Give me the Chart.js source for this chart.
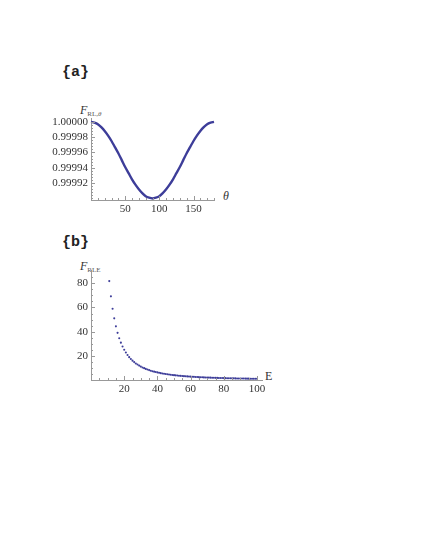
<!DOCTYPE html>
<html>
  <head>
    <title>F plots</title>
    <meta charset="UTF-8">
    <script src="https://cdn.jsdelivr.net/npm/chart.js@4.4.1/dist/chart.umd.min.js"></script>
    <style type="text/css">
      body { margin: 0; background: #fff; width: 425px; height: 549px; position: relative; overflow: hidden;
             font-family: "Liberation Serif", serif; }
      canvas { position: absolute; left: 0; }
      .tag { position: absolute; font: bold 15px "Liberation Mono", monospace; color: #222; }
      .lab { position: absolute; font-size: 12px; color: #333; white-space: nowrap; }
      .lab sub { font-size: 7px; vertical-align: -2px; color: #555; }
    </style>
    <script type="text/javascript">
      // panel (a): F_RL,theta vs theta (degrees)
      const thetaDeg = [0, 5, 10, 15, 20, 25, 30, 35, 40, 45, 50, 55, 60, 65, 70, 75, 80, 85, 90,
                        95, 100, 105, 110, 115, 120, 125, 130, 135, 140, 145, 150, 155, 160, 165, 170, 175, 180];
      const fTheta = [1.000000, 0.999999, 0.999997, 0.999993, 0.999988, 0.999982, 0.999975, 0.999967,
                      0.999959, 0.999950, 0.999941, 0.999933, 0.999925, 0.999918, 0.999912, 0.999907,
                      0.999903, 0.999901, 0.999900, 0.999901, 0.999903, 0.999907, 0.999912, 0.999918,
                      0.999925, 0.999933, 0.999941, 0.999950, 0.999959, 0.999967, 0.999975, 0.999982,
                      0.999988, 0.999993, 0.999997, 0.999999, 1.000000];
      const aXTicks = [50, 100, 150];
      const aYTicks = [0.99992, 0.99994, 0.99996, 0.99998, 1.00000];

      // panel (b): F_RLE vs E
      const energyE = [11, 12, 13, 14, 15, 16, 17, 18, 19, 20, 21, 22, 23, 24, 25, 26, 27, 28, 29, 30,
                       31, 32, 33, 34, 35, 36, 37, 38, 39, 40, 41, 42, 43, 44, 45, 46, 47, 48, 49, 50,
                       51, 52, 53, 54, 55, 56, 57, 58, 59, 60, 61, 62, 63, 64, 65, 66, 67, 68, 69, 70,
                       71, 72, 73, 74, 75, 76, 77, 78, 79, 80, 81, 82, 83, 84, 85, 86, 87, 88, 89, 90,
                       91, 92, 93, 94, 95, 96, 97, 98, 99, 100];
      const fE = [81.8, 69.2, 59.0, 51.0, 44.4, 39.0, 34.6, 30.9, 27.7, 25.0,
                  22.7, 20.7, 18.9, 17.4, 16.0, 14.8, 13.7, 12.8, 11.9, 11.1,
                  10.4, 9.8, 9.2, 8.7, 8.2, 7.7, 7.3, 6.9, 6.6, 6.3,
                  5.95, 5.67, 5.41, 5.17, 4.94, 4.73, 4.53, 4.34, 4.16, 4.00,
                  3.84, 3.70, 3.56, 3.43, 3.31, 3.19, 3.08, 2.97, 2.87, 2.78,
                  2.69, 2.60, 2.52, 2.44, 2.37, 2.30, 2.23, 2.16, 2.10, 2.04,
                  1.98, 1.93, 1.88, 1.83, 1.78, 1.73, 1.69, 1.64, 1.60, 1.56,
                  1.52, 1.49, 1.45, 1.42, 1.38, 1.35, 1.32, 1.29, 1.26, 1.23,
                  1.21, 1.18, 1.16, 1.13, 1.11, 1.09, 1.06, 1.04, 1.02, 1.00];
      const bXTicks = [20, 40, 60, 80, 100];
      const bYTicks = [20, 40, 60, 80];

      const ink = "rgb(61, 61, 153)";
      const tickFont = { family: "Liberation Serif", size: 11 };
    </script>
  </head>
  <body>
    <div class="tag" style="left:62px; top:64px;">{a}</div>
    <div class="lab" style="left:80px; top:103px;"><i>F</i><sub>RL,<i>θ</i></sub></div>
    <div class="lab" style="left:223px; top:189px;"><i>θ</i></div>
    <canvas id="chart-a" width="250" height="125" style="top:100px;"></canvas>

    <div class="tag" style="left:62px; top:234px;">{b}</div>
    <div class="lab" style="left:80px; top:259px;"><i>F</i><sub>RLE</sub></div>
    <div class="lab" style="left:265px; top:369px;">E</div>
    <canvas id="chart-b" width="300" height="145" style="top:255px;"></canvas>

    <script type="text/javascript">
      // Mathematica style ticks: drawn inward from the axis lines, major + minor
      const inTicks = {
        id: "inTicks",
        afterDraw(chart, args, opts) {
          const c = chart.ctx, a = chart.chartArea;
          c.save();
          c.strokeStyle = "#999";
          c.lineWidth = 1;
          const xs = chart.scales.x, ys = chart.scales.y;
          opts.x.forEach(([v, len]) => {
            const px = Math.round(xs.getPixelForValue(v)) + 0.5;
            c.beginPath(); c.moveTo(px, a.bottom); c.lineTo(px, a.bottom - len); c.stroke();
          });
          opts.y.forEach(([v, len]) => {
            const py = Math.round(ys.getPixelForValue(v)) + 0.5;
            c.beginPath(); c.moveTo(a.left, py); c.lineTo(a.left + len, py); c.stroke();
          });
          c.restore();
        }
      };

      // list of [value, length] tick marks
      const tickList = (from, to, step, majors) => {
        const out = [];
        for (let i = 0; from + i * step <= to + step * 1e-6; i++) {
          const v = from + i * step;
          out.push([v, majors.some(m => Math.abs(m - v) < step * 1e-3) ? 4 : 2]);
        }
        return out;
      };

      const axisBase = (min, max, ticks, fmt, size) => ({
        type: "linear", min: min, max: max,
        grid: { display: false, drawTicks: false },
        border: { display: true, color: "#999", width: 1 },
        afterBuildTicks: s => { s.ticks = ticks.map(v => ({ value: v })); },
        ticks: { font: tickFont, color: "#333", padding: 3, autoSkip: false, maxRotation: 0,
                 callback: v => fmt(v) },
        afterFit: size
      });

      new Chart(document.getElementById("chart-a"), {
        type: "line",
        data: {
          datasets: [{
            data: thetaDeg.map((t, i) => ({ x: t, y: fTheta[i] })),
            borderColor: ink, borderWidth: 2.4, pointRadius: 0,
            cubicInterpolationMode: "monotone", fill: false
          }]
        },
        options: {
          responsive: false, animation: false, clip: false,
          layout: { padding: { top: 18, right: 36, left: 0, bottom: 0 } },
          plugins: {
            legend: { display: false }, tooltip: { enabled: false },
            inTicks: {
              x: tickList(10, 180, 10, aXTicks),
              y: tickList(0.99990, 1.0, 0.000004, aYTicks)
            }
          },
          scales: {
            x: axisBase(0, 180, aXTicks, v => String(v), s => { s.height = 25; }),
            y: axisBase(0.999898, 1.000005, aYTicks, v => v.toFixed(5), s => { s.width = 91; })
          }
        },
        plugins: [inTicks]
      });

      new Chart(document.getElementById("chart-b"), {
        type: "scatter",
        data: {
          datasets: [{
            data: energyE.map((e, i) => ({ x: e, y: fE[i] })),
            backgroundColor: ink, borderWidth: 0, pointRadius: 1.05
          }]
        },
        options: {
          responsive: false, animation: false,
          layout: { padding: { top: 15, right: 38, left: 0, bottom: 0 } },
          plugins: {
            legend: { display: false }, tooltip: { enabled: false },
            inTicks: {
              x: tickList(5, 100, 5, bXTicks),
              y: tickList(5, 85, 5, bYTicks)
            }
          },
          scales: {
            x: axisBase(0, 103, bXTicks, v => String(v), s => { s.height = 20; }),
            y: axisBase(0, 91, bYTicks, v => String(v), s => { s.width = 91; })
          }
        },
        plugins: [inTicks]
      });
    </script>
  </body>
</html>
